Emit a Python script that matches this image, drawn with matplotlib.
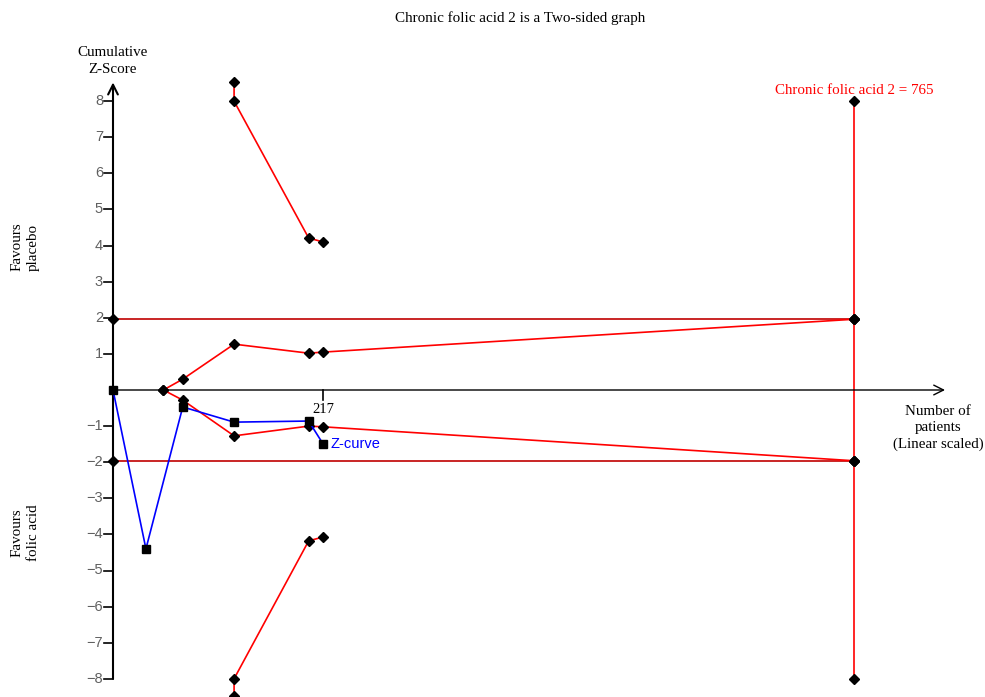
import matplotlib
matplotlib.use("Agg")
import matplotlib.pyplot as plt

# ---- data ----
zcurve_n = [0, 34, 72, 125, 202, 217]
zcurve_z = [0.0, -4.40, -0.47, -0.89, -0.86, -1.50]

upper_outer_n = [125, 125, 202, 217]
upper_outer_z = [8.53, 8.0, 4.21, 4.10]
lower_outer_n = [125, 125, 202, 217]
lower_outer_z = [-8.47, -8.0, -4.18, -4.07]

inner_upper_n = [52, 72, 125, 202, 217, 765]
inner_upper_z = [0.0, 0.30, 1.27, 1.02, 1.05, 1.96]
inner_lower_n = [52, 72, 125, 202, 217, 765]
inner_lower_z = [0.0, -0.28, -1.27, -1.00, -1.02, -1.96]

conv_n = [0, 765]
conv_z = 1.96
ris_n = 765
ris_z = [8, 1.96, -1.96, -8]
ris_label = "Chronic folic acid 2 = 765"
info_tick = 217
yticks = [-8, -7, -6, -5, -4, -3, -2, -1, 1, 2, 3, 4, 5, 6, 7, 8]

serif = "Liberation Serif"
sans = "Liberation Sans"

fig = plt.figure(figsize=(9.85, 6.97), dpi=100)
ax = fig.add_axes([0, 0, 1, 1])
pxx = 0.9686  # px per patient
pxy = 36.1    # px per z unit
ax.set_xlim(-113 / pxx, (985 - 113) / pxx)
ax.set_ylim(-(697 - 390) / pxy, 390 / pxy)
ax.axis("off")

# axes with arrows
ax.annotate("", xy=(0, 8.52), xytext=(0, -8.0),
            arrowprops=dict(arrowstyle="->,head_length=0.7,head_width=0.35", color="black", lw=1.5, shrinkA=0, shrinkB=0))
ax.annotate("", xy=(859, 0), xytext=(0, 0),
            arrowprops=dict(arrowstyle="->,head_length=0.7,head_width=0.35", color="black", lw=1.0, shrinkA=0, shrinkB=0))

# y ticks
tick_len = 9 / pxx
for t in yticks:
    ax.plot([-tick_len, 0], [t, t], color="black", lw=1.2)
    lab = str(t).replace("-", "\u2212")
    ax.text(-tick_len - 1, t, lab, ha="right", va="center", fontsize=10.5,
            family=sans, color="#606060")

# x tick at info
ax.plot([info_tick, info_tick], [0, -10 / pxy], color="black", lw=1.2)
ax.text(info_tick, -13 / pxy, str(info_tick), ha="center", va="top", fontsize=10.5, family=serif)

mk = dict(marker="D", ms=5, mfc="black", mec="black")

# conventional boundaries
ax.plot(conv_n, [conv_z, conv_z], color="#c00000", lw=1.2, **mk)
ax.plot(conv_n, [-conv_z, -conv_z], color="#c00000", lw=1.2, **mk)

# RIS vertical line
ax.plot([ris_n] * len(ris_z), ris_z, color="red", lw=1.2, **mk)
ax.text(ris_n, 8.31, ris_label, ha="center", va="center", fontsize=10.8, family=serif, color="red")

# monitoring boundaries
for n, z in [(upper_outer_n, upper_outer_z), (lower_outer_n, lower_outer_z),
             (inner_upper_n, inner_upper_z), (inner_lower_n, inner_lower_z)]:
    ax.plot(n, z, color="red", lw=1.2, **mk)

# z-curve
ax.plot(zcurve_n, zcurve_z, color="#0000ff", lw=1.2, marker="s", ms=5.5, mfc="black", mec="black", zorder=5)
ax.text(zcurve_n[-1] + 8, zcurve_z[-1], "Z-curve", ha="left", va="center", fontsize=10.5,
        family=sans, color="#0000ff")

# titles and labels
fig.text(520 / 985, 1 - 18 / 697, "Chronic folic acid 2 is a Two-sided graph", ha="center", va="center",
         fontsize=10.9, family=serif)
ax.text(0, (390 - 61) / pxy, "Cumulative\nZ-Score", ha="center", va="center", fontsize=10.8, family=serif,
        linespacing=1.45)
ax.text(-88 / pxx, (390 - 247) / pxy, "Favours\nplacebo", ha="center", va="center", rotation=90, fontsize=10.8,
        family=serif, linespacing=1.3)
ax.text(-88 / pxx, -(533 - 390) / pxy, "Favours\nfolic acid", ha="center", va="center", rotation=90, fontsize=10.8,
        family=serif, linespacing=1.3)
ax.text((938 - 113) / pxx, -(428 - 390) / pxy, "Number of\npatients\n(Linear scaled)", ha="center",
        va="center", fontsize=10.8, family=serif, linespacing=1.35)

fig.savefig("out.png", dpi=100)
